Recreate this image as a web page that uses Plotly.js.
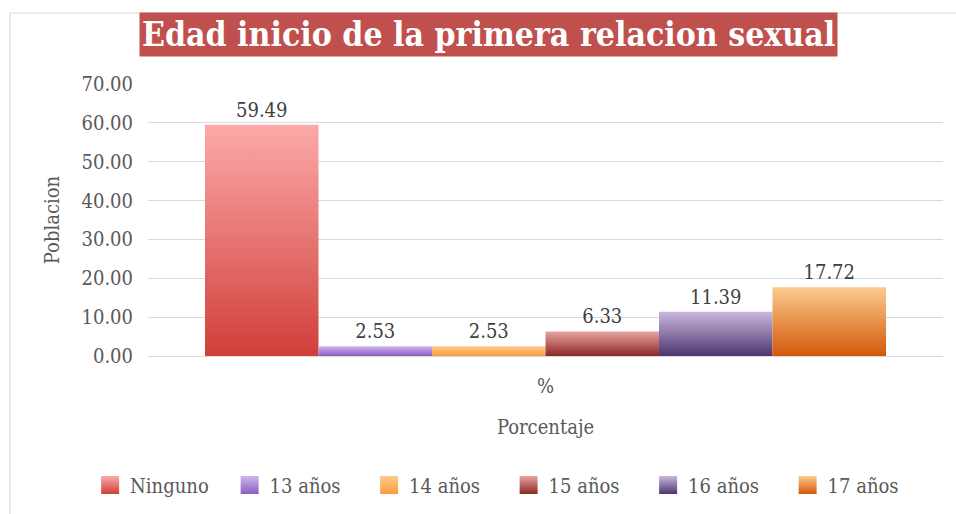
<!DOCTYPE html>
<html>
<head>
<meta charset="utf-8">
<script src="https://cdn.plot.ly/plotly-3.0.1.min.js"></script>
<style>html,body{margin:0;padding:0;background:#fff;}#chart{width:956px;height:514px;}</style>
</head>
<body>
<div id="chart"></div>
<script>
var category = ['%'];
var seriesNames = ['Ninguno', '13 años', '14 años', '15 años', '16 años', '17 años'];
var seriesValues = [59.49, 2.53, 2.53, 6.33, 11.39, 17.72];
var yTickValues = [0, 10, 20, 30, 40, 50, 60, 70];
var colorTop = ['#FBAAA9', '#CFB6EC', '#FFCB8C', '#E9A4A2', '#CBB8DD', '#FCCB8E'];
var colorBottom = ['#D03F3A', '#8960BF', '#F89C3E', '#8C2926', '#4D356F', '#D3580A'];
var colorMid = ['#E6726F', '#AC8CD6', '#FCB465', '#BB6664', '#8C77A6', '#E8924C'];

var FONT = '"DejaVu Serif Condensed", "DejaVu Serif", "Liberation Serif", serif';

var traces = seriesNames.map(function (name, i) {
  return {
    type: 'bar',
    name: name,
    x: category,
    y: [seriesValues[i]],
    marker: {color: colorMid[i], line: {width: 0}},
    text: [seriesValues[i].toFixed(2)],
    textposition: 'outside',
    cliponaxis: false,
    textfont: {family: FONT, size: 20, color: '#404040'},
    hoverinfo: 'none'
  };
});

var layout = {
  width: 956,
  height: 514,
  paper_bgcolor: '#ffffff',
  plot_bgcolor: '#ffffff',
  margin: {l: 148, r: 13, t: 84, b: 158, autoexpand: false},
  barmode: 'group',
  bargap: 0.1434,
  bargroupgap: 0,
  font: {family: FONT, color: '#595959', size: 20},
  showlegend: true,
  legend: {
    orientation: 'h',
    x: -0.0728, xanchor: 'left',
    y: -0.474, yanchor: 'middle',
    entrywidth: 94.5,
    itemwidth: 30,
    font: {family: FONT, size: 20, color: '#595959'},
    itemclick: false, itemdoubleclick: false
  },
  xaxis: {
    type: 'category',
    showgrid: false,
    zeroline: false,
    showline: false,
    ticks: 'outside', ticklen: 12, tickcolor: 'rgba(0,0,0,0)',
    tickfont: {family: FONT, size: 20, color: '#595959'},
    title: {text: 'Porcentaje', font: {family: FONT, size: 20, color: '#595959'}, standoff: 22}
  },
  yaxis: {
    range: [0, 70],
    tickvals: yTickValues,
    ticktext: yTickValues.map(function (v) { return v.toFixed(2); }),
    showgrid: true,
    gridcolor: '#D9D9D9',
    gridwidth: 1,
    zeroline: true,
    zerolinecolor: '#D9D9D9',
    showline: false,
    ticks: 'outside', ticklen: 10, tickcolor: 'rgba(0,0,0,0)',
    tickfont: {family: FONT, size: 20, color: '#595959'},
    title: {text: 'Poblacion', font: {family: FONT, size: 20, color: '#595959'}, standoff: 16}
  },
  annotations: [{
    text: '<b>Edad inicio de la primera relacion sexual</b>',
    xref: 'paper', yref: 'paper',
    x: 0.4277, xanchor: 'center',
    y: 1.182, yanchor: 'middle',
    showarrow: false,
    bgcolor: '#C0504D',
    borderpad: 2,
    font: {family: FONT, size: 33.5, color: '#ffffff'}
  }],
  shapes: [{
    type: 'rect', xref: 'paper', yref: 'paper',
    x0: -0.1736, x1: 1.02, y0: -0.59, y1: 1.261,
    line: {color: '#D9D9D9', width: 1}, fillcolor: 'rgba(0,0,0,0)', layer: 'below'
  }]
};

Plotly.newPlot('chart', traces, layout, {displayModeBar: false, staticPlot: true}).then(function (gd) {
  var svg = gd.querySelector('svg.main-svg');
  var ns = 'http://www.w3.org/2000/svg';
  var defs = document.createElementNS(ns, 'defs');
  seriesNames.forEach(function (n, i) {
    var g = document.createElementNS(ns, 'linearGradient');
    g.setAttribute('id', 'barGrad' + i);
    g.setAttribute('x1', '0'); g.setAttribute('y1', '0');
    g.setAttribute('x2', '0'); g.setAttribute('y2', '1');
    var s1 = document.createElementNS(ns, 'stop');
    s1.setAttribute('offset', '0'); s1.setAttribute('stop-color', colorTop[i]);
    var s2 = document.createElementNS(ns, 'stop');
    s2.setAttribute('offset', '1'); s2.setAttribute('stop-color', colorBottom[i]);
    g.appendChild(s1); g.appendChild(s2);
    defs.appendChild(g);
  });
  svg.insertBefore(defs, svg.firstChild);
  var barTraces = gd.querySelectorAll('.barlayer .trace');
  barTraces.forEach(function (t, i) {
    t.querySelectorAll('path').forEach(function (p) { p.style.fill = 'url(#barGrad' + i + ')'; });
  });
  var legTraces = gd.querySelectorAll('.legend .traces');
  legTraces.forEach(function (t, i) {
    t.querySelectorAll('.legendpoints path').forEach(function (p) {
      p.setAttribute('d', 'M9,9H-9V-9H9Z');
      p.style.fill = 'url(#barGrad' + i + ')';
    });
  });
});
</script>
</body>
</html>
